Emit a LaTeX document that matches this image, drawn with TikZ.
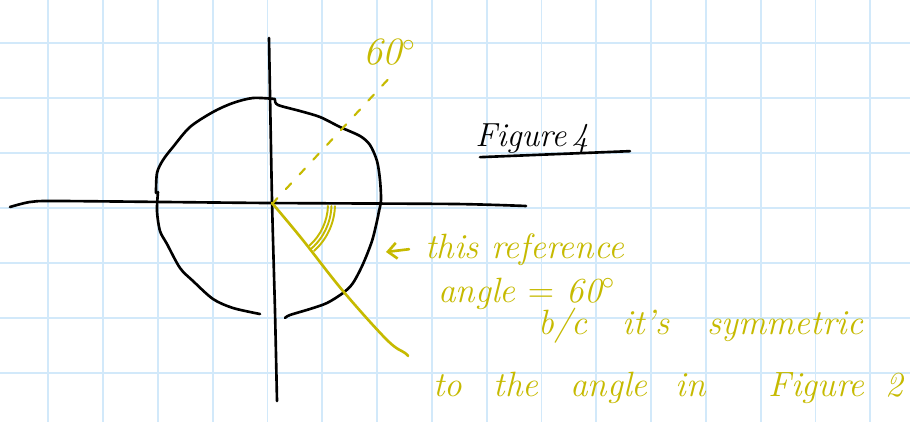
\documentclass[tikz,border=0pt]{standalone}
\usepackage{xcolor}
\usepackage{tikz}
\usetikzlibrary{positioning, arrows.meta}
\definecolor{gridblue}{RGB}{210,233,250}
\definecolor{penyellow}{RGB}{198,186,0}

\begin{document}
\begin{tikzpicture}[x=0.02cm, y=-0.02cm, >={Straight Barb[length=5pt, width=9pt]},
  pen/.style={line width=1.5pt, line cap=round, line join=round},
  hand/.style={font=\fontsize{20}{24}\selectfont\itshape, text=penyellow, inner sep=0pt, anchor=base west}]
        \useasboundingbox (0,0) rectangle (910,422);

        % Grid paper
        \fill[white] (0,0) rectangle (910,422);
        \foreach \gx in {0,...,15} \draw[gridblue, line width=1.1pt] (48.3+54.8*\gx,0) -- (48.3+54.8*\gx,422);
        \foreach \gy in {0,...,6} \draw[gridblue, line width=1.1pt] (0,43.3+54.9*\gy) -- (910,43.3+54.9*\gy);

        % Axes
        \coordinate (o) at (272,204);
        \draw[pen] plot[smooth, tension=0.4] coordinates {(10,207) (30,202) (60,201) (267,203) (455,204) (526,206)};
        \draw[pen] plot[smooth, tension=0.4] coordinates {(269,38) (272,200) (275,311) (277,401)};

        % Circle, four strokes
        \draw[pen] plot[smooth] coordinates {(156,193) (157,173) (163,160) (173,147) (190,127) (213,112) (233,103) (253,98) (275,99)};
        \draw[pen] plot[smooth] coordinates {(275,100) (278,105) (300,111) (320,117) (340,127) (360,136) (370,145) (377,161) (380,180) (381,200) (379,211)};
        \draw[pen] plot[smooth] coordinates {(158,192) (157,211) (160,231) (167,244) (180,268) (193,281) (213,299) (233,308) (260,314)};
        \draw[pen] plot[smooth] coordinates {(285,318) (290,315) (310,309) (327,303) (343,293) (353,283) (363,264) (372,241) (377,221) (379,211)};

        % Reference angle
        \draw[pen, penyellow, dashed, dash pattern=on 4.5pt off 7pt, line width=1.2pt] (o) -- (394,73);
        \draw[pen, penyellow] plot[smooth, tension=0.6] coordinates {(272,203) (302,239) (343,291) (387,340) (405,353) (408,356)};
        \foreach \r in {56,59.5,63} \draw[pen, penyellow, line width=1.1pt] (o) ++(2:\r) arc[start angle=2, end angle=48, radius=\r];

        % Labels
        \node (sixty) [hand, font=\fontsize{22}{26}\selectfont\itshape] at (363,65) {60\textsuperscript{$\circ$}};
        \node (figfour) [anchor=base west, inner sep=0pt, font=\fontsize{19}{23}\selectfont\itshape] at (475,147) {Figure\,4};
        \draw[pen] (figfour.south west) ++(5,3) -- ++(150,-6);

        \node (lineone) [hand] at (425,259) {this reference};
        \node (linetwo) [hand] at (438,303) {angle $=$ 60\textsuperscript{$\circ$}};
        \node (linethree) [hand] at (538,335) {b/c\hspace{1em}it's\hspace{1.1em}symmetric};
        \node (linefour) [hand] at (433,397) {to\hspace{0.9em}the\hspace{0.9em}angle\hspace{0.8em}in\hspace{1.8em}Figure\hspace{0.6em}2};
        \coordinate (tip) at (386,252);
        \draw[pen, penyellow, ->] (lineone.west) ++(-16,-1) -- (tip);

    \end{tikzpicture}
\end{document}
